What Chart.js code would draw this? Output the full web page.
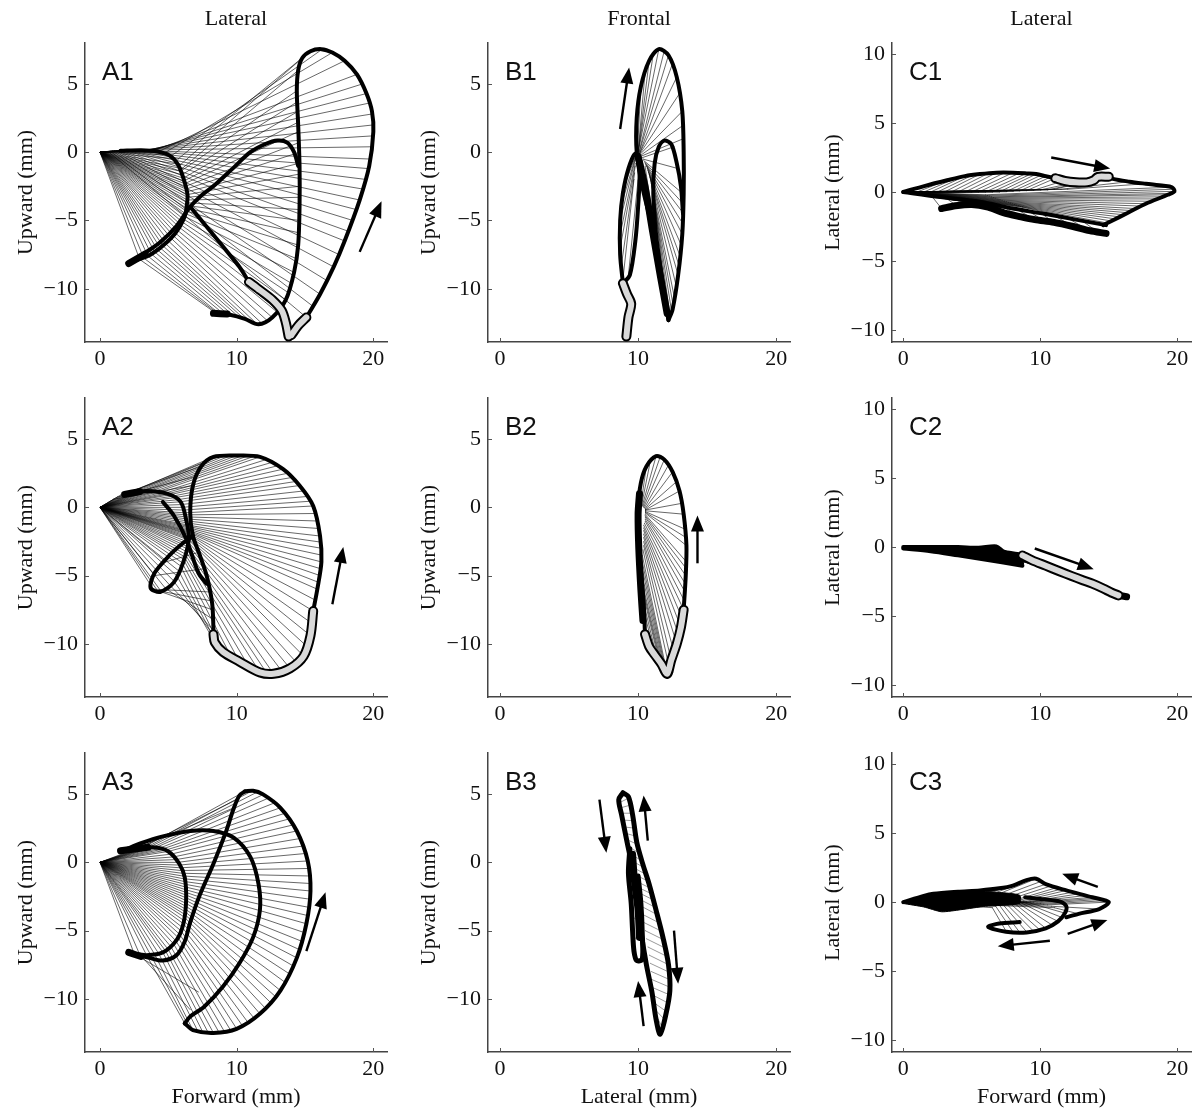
<!DOCTYPE html>
<html>
<head>
<meta charset="utf-8">
<script src="https://cdn.jsdelivr.net/npm/chart.js@4.4.0/dist/chart.umd.min.js"></script>
<style>
  body { margin: 0; background: #fff; width: 1196px; height: 1113px; position: relative; overflow: hidden; }
  canvas { position: absolute; }
</style>
</head>
<body>
<script>
// ---- text ----
const colTitles = ['Lateral', 'Frontal', 'Lateral'];
const xTitles = ['Forward (mm)', 'Lateral (mm)', 'Forward (mm)'];
const yTitles = ['Upward (mm)', 'Upward (mm)', 'Lateral (mm)'];
const xTicks = [0, 10, 20];
const yTicksAB = [-10, -5, 0, 5];
const yTicksC = [-10, -5, 0, 5, 10];

// ---- A1 ----  (thin lines: base[i] -> tip[i], plus hip -> base[i])
const a1Base = [[0.6,0.05],[0.9,0.1],[1.2,0.1],[1.5,0.1],[1.8,0.15],[2.1,0.15],[2.4,0.15],[2.7,0.15],[3.0,0.15],[3.3,0.15],[3.6,0.15],[3.9,0.1],[4.3,0.05],[4.8,0],[5.3,-0.2],[5.7,-0.5],[5.9,-0.9],[6.0,-1.2],[5.9,-1.4],[6.1,-1.9],[6.2,-2.3],[6.3,-2.7],[6.4,-3.1],[6.4,-3.5],[6.35,-3.9],[6.3,-4.3],[6.2,-4.7],[6.0,-5.1],[5.8,-5.5],[5.5,-5.9],[5.2,-6.3],[4.8,-6.7],[4.4,-7.0],[4.0,-7.3],[3.5,-7.6],
  [0.75,0.07],[1.05,0.1],[1.35,0.1],[1.65,0.12],[1.95,0.15],[2.25,0.15],[2.55,0.15],[2.85,0.15],[3.15,0.15],[3.45,0.15],[3.75,0.12],[6.0,-1.65],[6.15,-2.1],[6.25,-2.5],[6.35,-2.9],[6.4,-3.3],[6.38,-3.7],[6.33,-4.1],[6.25,-4.5],[6.1,-4.9],[5.9,-5.3],[5.65,-5.7],[5.35,-6.1],[5.0,-6.5],[4.6,-6.85],[4.2,-7.15],[3.75,-7.45],[3.2,-7.75],[2.9,-7.85]];
const a1Tip = [[15.1,-12.1],[16.1,-10.4],[17.1,-8.4],[17.9,-6.5],[18.5,-5],[19,-3.5],[19.5,-2],[19.8,-0.5],[20,1.2],[19.9,2.8],[19.5,4.3],[18.8,5.7],[17.9,6.7],[17,7.3],[16.2,7.5],[15.4,7.4],[14.8,6.9],[14.5,6],[14.4,4.5],[14.5,3],[14.5,1.5],[14.6,0],[14.6,-1.6],[14.6,-3.3],[14.6,-5],[14.5,-6.8],[14.2,-8.8],[13.8,-10.3],[13.3,-11.3],[12.6,-12.1],[11.8,-12.5],[11,-12.4],[10.2,-12.1],[9.4,-11.9],[8.7,-11.8],
  [15.6,-11.3],[16.6,-9.4],[17.5,-7.5],[18.2,-5.8],[18.75,-4.2],[19.25,-2.7],[19.65,-1.2],[19.9,0.4],[20,2.0],[19.7,3.6],[19.2,5.0],[14.45,3.7],[14.5,2.2],[14.55,0.7],[14.6,-0.8],[14.6,-2.5],[14.6,-4.2],[14.55,-5.9],[14.4,-7.8],[14.0,-9.6],[13.55,-10.8],[12.95,-11.7],[12.2,-12.3],[11.4,-12.5],[10.6,-12.25],[9.8,-12.0],[9.05,-11.85],[8.6,-11.8],[8.5,-11.8]];
const a1Paths = [
  [[1.5,0.1],[3,0.15],[4.2,0.05],[5.1,-0.25],[5.7,-0.9],[6.1,-1.9],[6.4,-3.1],[6.35,-3.9],[6.2,-4.7],[5.8,-5.5],[5.2,-6.3],[4.4,-7.0],[3.5,-7.6],[2.5,-7.95]],
  [[2.4,-8.0],[3.4,-7.3],[4.4,-6.6],[5.6,-5.4],[6.6,-4.0],[7.5,-3.1],[8.4,-2.4],[9.7,-1.2],[11,0],[12.1,0.6],[13,0.85],[13.7,0.7],[14.2,0],[14.5,-1]],
  [[15.1,-12.1],[16.1,-10.4],[17.1,-8.4],[17.9,-6.5],[19,-3.5],[19.7,-1],[20,1.5],[19.9,3],[19.5,4.3],[18.8,5.7],[17.9,6.7],[17,7.3],[16.2,7.55],[15.4,7.4],[14.8,6.9],[14.5,6],[14.4,4.5],[14.5,2],[14.6,-1],[14.6,-4],[14.5,-6.8],[14.2,-8.8],[13.6,-10.8],[12.6,-12.1],[11.6,-12.6],[10.6,-12.2],[9.5,-11.9],[8.5,-11.8]],
  [[6.6,-4],[7.5,-5.1],[8.5,-6.3],[9.4,-7.4],[10.2,-8.4],[10.9,-9.5]]
];
const a1Heavy = [[[2.1,-8.15],[3.3,-7.45]], [[8.3,-11.8],[9.3,-11.85]]];
const a1Stance = [
  [[10.9,-9.5],[11.7,-10.1],[12.6,-10.8],[13.3,-11.6],[13.6,-12.5],[13.8,-13.5]],
  [[15.1,-12.1],[14.5,-12.7],[14.0,-13.4]]
];
const a1Arrows = [[19,-7.3,20.6,-3.6]];

// ---- A2 ----
const a2Base = [[1.0,0.6],[1.5,0.9],[2.0,1.0],[2.6,1.1],[3.1,1.15],[3.6,1.15],[4.1,1.1],[4.6,1.0],[5.0,0.9],[5.4,0.7],[5.8,0.4],[6.0,0.0],[6.2,-0.4],[6.3,-0.7],[6.4,-1.0],[6.45,-1.3],[6.5,-1.5],[6.5,-1.7],[6.5,-1.85],[6.5,-2.0],[6.5,-2.2],[6.5,-2.4],[6.4,-2.7],[6.3,-3.0],[6.2,-3.4],[6.1,-3.8],[5.9,-4.3],[5.6,-5.0],[5.1,-5.7],[4.5,-6.2],[3.9,-6.0],[4.0,-5.0],[4.8,-4.0],
  [1.25,0.75],[1.75,0.95],[2.3,1.05],[2.85,1.12],[3.35,1.15],[3.85,1.12],[4.35,1.05],[4.8,0.95],[5.2,0.8],[5.6,0.55],[5.9,0.2],[6.1,-0.2],[6.25,-0.55],[6.35,-0.85],[6.42,-1.15],[6.48,-1.4],[6.5,-1.6],[6.5,-1.78],[6.5,-1.93],[6.5,-2.1],[6.5,-2.3],[6.45,-2.55],[6.35,-2.85],[6.25,-3.2],[6.15,-3.6],[6.0,-4.05],[5.75,-4.65],[5.35,-5.35],[4.8,-5.95],[4.2,-6.1]];
const a2Tip = [[6.8,1.6],[7.4,3.0],[8.3,3.7],[9.2,3.8],[10,3.8],[10.9,3.8],[11.7,3.7],[12.6,3.3],[13.4,2.8],[14.1,2.2],[14.6,1.6],[15.2,0.8],[15.6,0.1],[15.9,-1],[16.1,-2.1],[16.2,-3],[16.2,-4],[16.1,-5],[15.9,-6],[15.6,-7.6],[15.4,-9.4],[14.9,-10.9],[13.9,-11.8],[12.7,-12.2],[11.7,-12.1],[10.2,-11.3],[9.0,-10.6],[8.4,-9.9],[8.3,-9.0],[8.2,-7.5],[8.0,-6.2],[7.6,-4.5],[7.2,-3.3],
  [7.1,2.3],[7.85,3.4],[8.75,3.75],[9.6,3.8],[10.45,3.8],[11.3,3.75],[12.15,3.5],[13.0,3.05],[13.75,2.5],[14.35,1.9],[14.9,1.2],[15.4,0.45],[15.75,-0.45],[16.0,-1.55],[16.15,-2.55],[16.2,-3.5],[16.15,-4.5],[16.0,-5.5],[15.75,-6.8],[15.5,-8.5],[15.15,-10.2],[14.4,-11.4],[13.3,-12.0],[12.2,-12.15],[10.9,-11.7],[9.6,-10.95],[8.7,-10.25],[8.35,-9.45],[8.25,-8.2],[8.1,-6.85]];
const a2Paths = [
  [[1.9,1.0],[3.4,1.2],[4.9,1.0],[5.9,0.4],[6.3,-0.9],[6.5,-2.3],[6.1,-4],[5.4,-5.5],[4.4,-6.2],[3.7,-5.9],[4.0,-4.8],[5.1,-3.5],[6.1,-2.6],[6.8,-2.1]],
  [[4.6,0.4],[5.4,-0.6],[6.3,-2.3],[7.2,-4.8],[7.8,-5.6]],
  [[8.3,-9.3],[8.3,-8.9],[8.2,-7],[7.8,-5],[7.3,-3.5],[6.8,-2.1],[6.6,-0.4],[6.8,1.6],[7.4,3.0],[8.3,3.7],[10,3.8],[11.7,3.7],[13.4,2.8],[14.6,1.6],[15.6,0.1],[16.1,-2.1],[16.2,-4],[15.9,-6],[15.6,-7.6]]
];
const a2Heavy = [[[1.8,0.95],[2.9,1.15]]];
const a2Stance = [[[15.6,-7.6],[15.4,-9.4],[14.9,-10.9],[13.9,-11.8],[12.7,-12.2],[11.7,-12.1],[10.2,-11.3],[9.0,-10.6],[8.4,-9.9],[8.3,-9.3]]];
const a2Arrows = [[17,-7.1,17.8,-2.9]];

// ---- A3 ----
const a3Base = [[2.5,0.95],[3.0,1.0],[3.5,1.05],[4.0,1.05],[4.5,0.95],[5.0,0.8],[5.4,0.4],[5.7,0.0],[5.9,-0.4],[6.0,-0.8],[6.1,-1.2],[6.2,-1.6],[6.25,-2.0],[6.3,-2.4],[6.3,-2.8],[6.25,-3.2],[6.2,-3.6],[6.15,-4.0],[6.1,-4.5],[5.9,-5.0],[5.7,-5.5],[5.4,-6.0],[5.0,-6.4],[4.6,-6.6],[4.0,-6.75],[3.4,-6.8],[2.9,-6.75],[2.5,-6.7],
  [2.75,0.98],[3.25,1.02],[3.75,1.05],[4.25,1.0],[4.75,0.88],[5.2,0.6],[5.55,0.2],[5.8,-0.2],[5.95,-0.6],[6.05,-1.0],[6.15,-1.4],[6.22,-1.8],[6.28,-2.2],[6.3,-2.6],[6.28,-3.0],[6.22,-3.4],[6.18,-3.8],[6.12,-4.25],[6.0,-4.75],[5.8,-5.25],[5.55,-5.75],[5.2,-6.2],[4.8,-6.5],[4.3,-6.7],[3.7,-6.78]];
const a3Tip = [[9.8,4.0],[10.6,5.2],[11.5,5.15],[12.3,4.7],[13.2,4.0],[13.9,3.2],[14.4,2.3],[14.9,1.2],[15.2,0.1],[15.4,-1.0],[15.4,-2.1],[15.3,-3.3],[15.1,-4.5],[14.8,-5.8],[14.4,-7.0],[13.9,-8.2],[13.2,-9.4],[12.5,-10.3],[11.7,-11.1],[10.8,-11.7],[10.0,-12.2],[9.1,-12.4],[8.3,-12.5],[7.5,-12.4],[6.8,-12.3],[6.2,-11.8],[6.6,-10.8],[7.2,-9.5],
  [10.2,4.7],[11.05,5.2],[11.9,4.95],[12.75,4.35],[13.55,3.6],[14.15,2.75],[14.65,1.75],[15.05,0.65],[15.3,-0.45],[15.4,-1.55],[15.35,-2.7],[15.2,-3.9],[14.95,-5.15],[14.6,-6.4],[14.15,-7.6],[13.55,-8.8],[12.85,-9.85],[12.1,-10.7],[11.25,-11.4],[10.4,-11.95],[9.55,-12.3],[8.7,-12.45],[7.9,-12.45],[7.15,-12.35],[6.5,-12.05]];
const a3Paths = [
  [[1.6,0.8],[2.5,0.95],[3.9,1.1],[5.0,0.8],[5.8,-0.1],[6.2,-1.1],[6.3,-2.8],[6.1,-4.5],[5.6,-5.7],[4.6,-6.6],[3.4,-6.8],[2.4,-6.7]],
  [[2.4,-6.7],[3.6,-7.0],[4.6,-7.2],[5.6,-6.8],[6.2,-5.8],[6.6,-4.4],[7.3,-2.4],[8.3,-0.1],[9.2,2.2],[9.8,4.0],[10.2,4.9],[10.6,5.2]],
  [[10.6,5.2],[11.2,5.25],[11.9,5.0],[13.2,4.0],[14.4,2.3],[15.2,0.1],[15.4,-2.1],[15.1,-4.5],[14.4,-7],[13.2,-9.4],[11.7,-11.1],[10.0,-12.2],[8.3,-12.5],[6.8,-12.3],[6.2,-11.8]],
  [[1.8,0.9],[3.0,1.4],[4.6,1.9],[6.6,2.3],[8.3,2.3],[9.8,1.8],[11,0.4],[11.6,-1.6],[11.7,-3.5],[11.2,-5.5],[10.2,-7.4],[9.0,-9.1],[7.6,-10.6],[6.6,-11.3],[6.2,-11.8]]
];
const a3Heavy = [[[1.5,0.85],[3.5,1.1]], [[2.1,-6.6],[3.0,-6.9]]];
const a3Stance = [];
const a3Arrows = [[15.1,-6.5,16.5,-2.2]];

// ---- B1 ----
const b1Base = [[9.9,0],[9.95,0],[10.0,0],[10.0,0],[10.05,-0.1],[10.1,-0.1],[10.1,-0.2],[10.2,-0.3],[10.3,-0.4],[10.35,-0.5],[10.4,-0.6],[10.5,-0.8],[10.6,-1.0],[10.7,-1.3],[10.8,-1.6],[10.9,-2.0],[11.0,-2.5],[11.1,-3.0],[10.2,-0.5],[10.0,-0.3],[9.8,-0.3],[9.8,-0.5],[9.8,-1.0],[9.7,-2.0],[10.0,-2.0],[9.95,0],[10.0,0],[10.0,0],[10.05,-0.05],[10.1,-0.1],[10.1,-0.15],[10.15,-0.25],
  [10.45,-0.7],[10.55,-0.9],[10.65,-1.15],[10.75,-1.45],[10.85,-1.8],[10.95,-2.25],[11.05,-2.75],[10.1,-0.4],[10.3,-0.6],[10.5,-1.0],[9.8,-0.4],[9.8,-0.8],[9.75,-1.5]];
const b1Tip = [[9.9,2.5],[10.2,4.8],[10.8,6.7],[11.5,7.55],[12.2,7.1],[12.8,5.5],[13.2,3.0],[13.3,1.0],[12.6,0.4],[12.9,-1.2],[13.2,-3.0],[13.3,-4.5],[13.2,-6.0],[13.0,-7.5],[12.9,-9.0],[12.6,-10.5],[12.4,-11.5],[12.2,-12.3],[12.0,-12.0],[11.8,-11.0],[8.8,-3.0],[8.7,-5.0],[8.7,-7.0],[8.9,-9.3],[9.3,-9.0],[10.0,3.7],[10.5,5.8],[11.1,7.2],[11.9,7.45],[12.5,6.5],[13.0,4.3],[13.3,2.0],
  [13.25,-3.75],[13.25,-5.25],[13.1,-6.75],[12.95,-8.25],[12.75,-9.75],[12.5,-11],[12.3,-11.9],[12.1,-12.2],[11.9,-11.5],[12.0,-11.0],[8.75,-4],[8.7,-6],[8.8,-8.2]];
const b1Paths = [
  [[12.2,-12.3],[11.6,-9],[11.0,-5.5],[10.3,-2.5],[9.9,0],[9.9,2.5],[10.2,4.8],[10.8,6.7],[11.5,7.55],[12.2,7.1],[12.8,5.5],[13.2,3],[13.3,0],[13.3,-3],[13.2,-6],[12.9,-9],[12.5,-11.5],[12.2,-12.3]],
  [[12.2,-12.3],[11.7,-9],[11.3,-6],[11.1,-3],[11.2,-0.8],[11.5,0.4],[11.9,0.85],[12.4,0.6],[12.8,-0.8],[13.1,-2.5],[13.25,-4.5]],
  [[8.9,-9.6],[8.7,-7.5],[8.7,-5],[8.9,-3],[9.3,-1.2],[9.8,-0.1],[10.1,-1.5],[10.0,-4],[9.8,-6.5],[9.4,-9.0],[8.9,-9.6]]
];
const b1Heavy = [[[10.0,-0.3],[10.5,-2.5],[11.0,-5.5],[11.6,-9],[12.1,-11.8]]];
const b1Stance = [[[8.9,-9.6],[9.2,-10.4],[9.5,-11.1],[9.3,-12.1],[9.15,-13.5]]];
const b1Arrows = [[8.7,1.7,9.35,6.2]];

// ---- B2 ----
const b2Base = [[10.2,0.2],[10.3,0.1],[10.4,0],[10.5,-0.1],[10.5,-0.15],[10.5,-0.2],[10.5,-0.2],[10.5,-0.25],[10.5,-0.3],[10.5,-0.4],[10.5,-0.5],[10.5,-0.7],[10.5,-1.0],[10.4,-1.3],[10.4,-1.7],[10.4,-2.2],[10.4,-2.8],[10.3,-3.5],[10.3,-4.5],[10.3,-5.5],[10.4,-6.5],[10.4,-7.5],
  [10.25,0.15],[10.35,0.05],[10.45,-0.05],[10.5,-0.35],[10.5,-0.6],[10.5,-0.85],[10.45,-1.15],[10.4,-1.5],[10.4,-1.95],[10.4,-2.5],[10.35,-3.1],[10.3,-4],[10.3,-5],[10.35,-6],[10.4,-7]];
const b2Tip = [[10.6,3.0],[11.3,3.75],[11.9,3.5],[12.5,2.6],[12.8,1.9],[13.0,1.2],[13.2,0.3],[13.3,-0.5],[13.4,-1.6],[13.5,-2.8],[13.5,-4.0],[13.45,-5.0],[13.4,-6.2],[13.3,-7.5],[13.1,-8.8],[12.8,-10.0],[12.4,-11.2],[12.1,-12.2],[11.9,-11.8],[11.7,-11.5],[11.5,-11.2],[11.2,-10.8],
  [10.9,3.45],[11.6,3.7],[12.2,3.1],[13.45,-2.2],[13.5,-4.5],[13.42,-5.6],[13.35,-6.85],[13.2,-8.15],[12.95,-9.4],[12.6,-10.6],[12.25,-11.7],[12.0,-12.0],[11.8,-11.65],[11.6,-11.35],[11.35,-11.0]];
const b2Paths = [[[10.5,-9.3],[10.4,-7],[10.2,-4.5],[10.0,-2],[10.0,0],[10.2,1.8],[10.6,3.0],[11.3,3.75],[11.9,3.5],[12.5,2.6],[13.0,1.2],[13.3,-0.5],[13.5,-2.8],[13.45,-5],[13.3,-7.5]]];
const b2Heavy = [[[10.35,-8.3],[10.2,-6],[10.05,-3],[10.0,-0.5],[10.1,1.0]]];
const b2Stance = [[[13.3,-7.5],[13.1,-8.8],[12.8,-10],[12.4,-11.2],[12.1,-12.2],[11.7,-11.5],[11.2,-10.8],[10.8,-10.2],[10.5,-9.3]]];
const b2Arrows = [[14.3,-4.1,14.3,-0.6]];

// ---- B3 ----
const b3Base = [[8.7,4.4],[8.8,3.6],[8.95,2.6],[9.1,1.7],[9.3,0.7],[9.5,-0.3],[9.7,-1.3],[10.0,-2.2],[10.2,-3.2],[10.4,-4.4],[10.6,-5.6],[10.8,-6.8],[10.95,-8.0],[11.1,-9.2],[11.3,-10.4],[11.45,-11.5],[9.5,-2.5],[9.6,-4.0],[9.7,-5.5],
  [8.75,4.0],[8.88,3.1],[9.02,2.15],[9.2,1.2],[9.4,0.2],[9.6,-0.8],[9.85,-1.75],[10.1,-2.7],[10.3,-3.8],[10.5,-5.0],[10.7,-6.2],[10.88,-7.4],[11.02,-8.6],[11.2,-9.8],[11.38,-10.95]];
const b3Tip = [[9.3,4.7],[9.6,3.6],[9.8,2.5],[10.0,1.3],[10.3,0.1],[10.6,-0.9],[10.9,-1.9],[11.2,-2.8],[11.5,-3.9],[11.8,-5.1],[12.0,-6.3],[12.2,-7.5],[12.3,-8.6],[12.25,-9.7],[12.0,-10.9],[11.7,-12.0],[10.1,-3.0],[10.2,-4.4],[10.3,-5.8],
  [9.45,4.2],[9.7,3.05],[9.9,1.9],[10.15,0.65],[10.45,-0.4],[10.75,-1.4],[11.05,-2.35],[11.35,-3.35],[11.65,-4.5],[11.9,-5.7],[12.1,-6.9],[12.25,-8.05],[12.3,-9.15],[12.15,-10.3],[11.85,-11.45]];
const b3Paths = [
  [[8.9,5.1],[9.3,4.8],[9.6,3.5],[9.9,1.5],[10.3,0],[10.8,-1.6],[11.3,-3.5],[11.8,-5.5],[12.2,-7.5],[12.3,-9.4],[12.0,-11.2],[11.6,-12.6],[11.3,-11.5],[11.0,-9.5],[10.6,-7.5],[10.2,-5],[9.9,-2.5],[9.6,-0.5],[9.2,1.5],[8.8,3.5],[8.6,4.6],[8.9,5.1]],
  [[9.4,1.0],[9.3,-0.8],[9.5,-3],[9.6,-5],[9.7,-6.5],[9.9,-7.2],[10.3,-7.1],[10.3,-5.2],[10.2,-3],[10.0,-1]]
];
const b3Heavy = [[[9.6,0.6],[9.75,-1.5],[10.0,-3.5],[10.1,-5.5]]];
const b3Stance = [];
const b3Arrows = [[7.2,4.6,7.7,0.7],[10.7,1.6,10.4,4.9],[12.6,-5,12.9,-8.9],[10.4,-12,10.0,-8.7]];

// ---- C1 ----
const c1Base = [[1,0],[2,0],[3,0],[4,0],[5,0],[6,0],[7,0],[8,0.05],[9,0.1],[10,0.15],[10.5,0.15],[11,0.2],[11.5,0.2],[12,0.2],[6,-0.2],[6.3,-0.3],[6.6,-0.4],[6.9,-0.5],[7.2,-0.6],[7.5,-0.7],[7.8,-0.8],[8.1,-0.9],[8.4,-1.0],[8.7,-1.1],[2,-0.2],[4,-0.5],[6,-0.8],[8,-1.1],[10,-1.5],[12,-1.9],
  [1.5,0],[2.5,0],[3.5,0],[4.5,0],[5.5,0],[6.5,0],[7.5,0.02],[8.5,0.08],[9.5,0.12],[6.15,-0.25],[6.45,-0.35],[6.75,-0.45],[7.05,-0.55],[7.35,-0.65],[7.65,-0.75],[7.95,-0.85],[8.25,-0.95],[8.55,-1.05],[3,-0.35],[5,-0.65],[7,-0.95],[9,-1.3],[11,-1.7],[13,-2.05]];
const c1Tip = [[3.2,0.85],[4.5,1.15],[5.6,1.3],[6.8,1.4],[8,1.4],[9,1.35],[9.7,1.3],[10.4,1.15],[11.1,1.0],[12.6,0.7],[13.9,0.85],[15,1.1],[16.5,0.75],[17.7,0.6],[19.6,0.35],[19.8,0.05],[19.3,-0.2],[18.5,-0.5],[17.7,-0.85],[17.0,-1.2],[16.4,-1.5],[15.8,-1.8],[15.2,-2.1],[14.6,-2.4],[2.8,-1.2],[5,-0.9],[7.3,-1.5],[9.6,-2.0],[11,-2.2],[13.6,-2.8],
  [3.85,1.0],[5.05,1.22],[6.2,1.35],[7.4,1.4],[8.5,1.38],[9.35,1.32],[10.05,1.22],[10.75,1.08],[11.8,0.85],[19.7,0.2],[19.55,-0.1],[18.9,-0.35],[18.1,-0.67],[17.35,-1.02],[16.7,-1.35],[16.1,-1.65],[15.5,-1.95],[14.9,-2.25],[3.9,-1.0],[6.2,-1.1],[8.6,-1.8],[10.3,-2.1],[12.4,-2.5],[14.2,-2.9]];
const c1Paths = [
  [[0,0],[1.6,0.45],[3.2,0.85],[4.5,1.15],[5.6,1.3],[6.8,1.4],[8.0,1.4],[9.0,1.35],[9.7,1.3],[10.4,1.15],[11.1,1.0]],
  [[15.0,1.1],[15.3,0.95],[16.5,0.75],[17.7,0.6],[19.0,0.45],[19.6,0.35],[19.8,0.05],[19.3,-0.2],[17.7,-0.85],[16.4,-1.5],[15.2,-2.1],[14.6,-2.4]],
  [[0,0],[2.5,-0.35],[5.6,-0.7],[8.0,-1.2],[10.4,-1.6],[12.6,-2.0],[14.8,-2.4]]
];
const c1Heavy = [[[2.8,-1.2],[3.8,-1.0],[5.0,-0.9],[6.2,-1.1],[7.3,-1.5],[8.6,-1.8],[9.6,-2.0],[11.0,-2.2],[12.4,-2.5],[13.6,-2.8],[14.8,-3.0]]];
const c1Stance = [[[11.1,1.0],[11.8,0.8],[12.6,0.7],[13.4,0.7],[13.9,0.85],[14.2,1.1],[15.0,1.1]]];
const c1Arrows = [[10.8,2.5,15.1,1.7]];

// ---- C2 ----
const c2Base = [[0.5,0],[1,0],[1.5,0],[2,0],[2.5,0],[3,0],[3.5,0],[4,0],[4.5,-0.1],[5,-0.2],[5.5,-0.3],[6,-0.35],[6.5,-0.4],[7,-0.5],[7.5,-0.55],[8,-0.6]];
const c2Tip = [[2,-0.3],[3,-0.45],[4,-0.6],[5,-0.75],[5.6,-0.85],[6.4,-1.0],[7.2,-1.1],[8,-1.2],[8.7,-1.35],[9.4,-0.95],[10.4,-1.35],[11.4,-1.75],[12.3,-2.1],[13.1,-2.4],[13.8,-2.65],[14.6,-3.0]];
const c2Paths = [
  [[0,0],[2,0],[4,0],[5.5,-0.05],[6.8,0.05],[7.3,-0.3],[8.3,-0.5],[8.7,-0.6]],
  [[0,-0.1],[2,-0.3],[4,-0.6],[5.6,-0.85],[7.2,-1.1],[8.7,-1.35]]
];
const c2Fill = [[[0,0.05],[2,0.05],[4,0.05],[5.5,0],[6.8,0.1],[7.3,-0.25],[8.3,-0.45],[8.8,-0.6],[8.7,-1.35],[7.2,-1.1],[5.6,-0.85],[4,-0.6],[2,-0.3],[0,-0.1]]];
const c2Heavy = [[[15.5,-3.45],[16.3,-3.6]]];
const c2Stance = [[[8.7,-0.6],[9.4,-0.95],[10.4,-1.35],[11.4,-1.75],[12.3,-2.1],[13.1,-2.4],[13.8,-2.65],[14.6,-3.0],[15.2,-3.3],[15.7,-3.5]]];
const c2Arrows = [[9.6,-0.1,13.9,-1.6]];

// ---- C3 ----
const c3Base = [[4,0.2],[5,0.2],[6,0.2],[7,0.15],[8,0.1],[8.5,0.05],[9,0],[9.5,0],[10,-0.1],[10.5,-0.2],[10.8,-0.3],[11,-0.4],[6.5,-0.4],[7,-0.2],[7.5,-0.1],[8,0],[8.5,0],[9,0],[1.5,0],[2.5,0],[3.5,0],
  [4.5,0.2],[5.5,0.2],[6.5,0.18],[7.5,0.12],[8.25,0.08],[8.75,0.02],[9.25,0],[9.75,-0.05],[10.25,-0.15],[6.75,-0.3],[7.25,-0.15],[7.75,-0.05],[8.25,0],[8.75,0]];
const c3Tip = [[8,1.2],[9,1.6],[9.7,1.7],[10.4,1.3],[11.2,1.05],[11.9,0.85],[12.8,0.6],[13.8,0.35],[14.4,0.2],[15,0],[14.3,-0.5],[12.8,-0.85],[7.5,-2.1],[8.5,-2.2],[9.5,-2.1],[10.4,-1.9],[11.3,-1.4],[11.8,-0.8],[3,0.7],[4.5,0.8],[6,0.7],
  [8.5,1.4],[9.35,1.68],[10.05,1.5],[10.8,1.18],[11.55,0.95],[12.35,0.72],[13.3,0.48],[14.1,0.28],[14.7,0.1],[8.0,-2.15],[9.0,-2.15],[9.95,-2.0],[10.85,-1.65],[11.55,-1.1]];
const c3Paths = [
  [[0,0],[1.5,0.45],[2.2,0.6],[4,0.75],[5.6,0.85],[7,1.0],[8,1.2],[9,1.6],[9.7,1.7],[10.4,1.3],[11.9,0.85],[13.8,0.35],[15,0],[14.3,-0.5],[12.8,-0.85],[11.9,-1.1]],
  [[8.9,0.35],[10.3,0.2],[11.4,0.05],[11.9,-0.3],[11.8,-0.8],[11.3,-1.4],[10.4,-1.9],[9,-2.2],[7.5,-2.15],[6.2,-1.8],[7.0,-1.55],[8.5,-1.45]]
];
const c3Fill = [[[0,0.05],[1.5,0.45],[3,0.7],[5,0.8],[7,0.7],[8.5,0.5],[8.5,-0.1],[6,-0.3],[4.2,-0.55],[2.8,-0.7],[1.5,-0.35],[0,-0.1]]];
const c3Heavy = [];
const c3Stance = [];
const c3Arrows = [[14.2,1.1,11.6,2.05],[12,-2.3,14.9,-1.3],[10.7,-2.8,6.9,-3.2]];

// ---- layout (pixels) ----
const colLeft = [85, 488, 892];
const colRight = [387, 790, 1191];
const colXMin = [-1.1, -0.87, -0.82];
const rowTop = [43, 398, 753];
const plotH = 299;

const panels = [
  {label: 'A1', col: 0, row: 0, base: a1Base, tip: a1Tip, hip: [0, 0], paths: a1Paths, heavy: a1Heavy, stance: a1Stance, fills: [], arrows: a1Arrows},
  {label: 'A2', col: 0, row: 1, base: a2Base, tip: a2Tip, hip: [0, 0], paths: a2Paths, heavy: a2Heavy, stance: a2Stance, fills: [], arrows: a2Arrows},
  {label: 'A3', col: 0, row: 2, base: a3Base, tip: a3Tip, hip: [0, 0], paths: a3Paths, heavy: a3Heavy, stance: a3Stance, fills: [], arrows: a3Arrows},
  {label: 'B1', col: 1, row: 0, base: b1Base, tip: b1Tip, hip: null, paths: b1Paths, heavy: b1Heavy, stance: b1Stance, fills: [], arrows: b1Arrows},
  {label: 'B2', col: 1, row: 1, base: b2Base, tip: b2Tip, hip: null, paths: b2Paths, heavy: b2Heavy, stance: b2Stance, fills: [], arrows: b2Arrows},
  {label: 'B3', col: 1, row: 2, base: b3Base, tip: b3Tip, hip: null, paths: b3Paths, heavy: b3Heavy, stance: b3Stance, fills: [], arrows: b3Arrows},
  {label: 'C1', col: 2, row: 0, base: c1Base, tip: c1Tip, hip: [0, 0], paths: c1Paths, heavy: c1Heavy, stance: c1Stance, fills: [], arrows: c1Arrows},
  {label: 'C2', col: 2, row: 1, base: c2Base, tip: c2Tip, hip: [0, 0], paths: c2Paths, heavy: c2Heavy, stance: c2Stance, fills: c2Fill, arrows: c2Arrows},
  {label: 'C3', col: 2, row: 2, base: c3Base, tip: c3Tip, hip: [0, 0], paths: c3Paths, heavy: c3Heavy, stance: c3Stance, fills: c3Fill, arrows: c3Arrows}
];

const serif = '"Liberation Serif", "Times New Roman", serif';
Chart.defaults.font.family = serif;
Chart.defaults.color = '#111';
const fontSize = 22;

function fmt(v) {
  return v < 0 ? '\u2212' + Math.abs(v) : String(v);
}

function line(pts, color, width, order, tension) {
  return {
    data: pts.map(q => ({x: q[0], y: q[1]})),
    showLine: true,
    borderColor: color,
    borderWidth: width,
    pointRadius: 0,
    pointHoverRadius: 0,
    tension: tension || 0,
    order: order,
    fill: false,
    borderCapStyle: 'round',
    borderJoinStyle: 'round'
  };
}

const decor = {
  id: 'decor',
  afterDatasetsDraw(chart, args, opts) {
    const {ctx, scales: {x, y}} = chart;
    ctx.save();
    ctx.strokeStyle = '#000';
    ctx.fillStyle = '#000';
    ctx.lineWidth = 2.4;
    (opts.arrows || []).forEach(a => {
      const x0 = x.getPixelForValue(a[0]), y0 = y.getPixelForValue(a[1]);
      const x1 = x.getPixelForValue(a[2]), y1 = y.getPixelForValue(a[3]);
      const ang = Math.atan2(y1 - y0, x1 - x0);
      const c = Math.cos(ang), s = Math.sin(ang);
      const hl = 16, hw = 6.5;
      ctx.beginPath();
      ctx.moveTo(x0, y0);
      ctx.lineTo(x1 - hl * 0.8 * c, y1 - hl * 0.8 * s);
      ctx.stroke();
      ctx.beginPath();
      ctx.moveTo(x1, y1);
      ctx.lineTo(x1 - hl * c + hw * s, y1 - hl * s - hw * c);
      ctx.lineTo(x1 - hl * c - hw * s, y1 - hl * s + hw * c);
      ctx.closePath();
      ctx.fill();
    });
    ctx.restore();
  },
  afterDraw(chart, args, opts) {
    const {ctx, chartArea: ca, scales: {x, y}} = chart;
    ctx.save();
    ctx.strokeStyle = '#555';
    ctx.lineWidth = 1;
    x.ticks.forEach(t => {
      const px = Math.round(x.getPixelForValue(t.value)) + 0.5;
      ctx.beginPath(); ctx.moveTo(px, ca.bottom); ctx.lineTo(px, ca.bottom - 4); ctx.stroke();
    });
    y.ticks.forEach(t => {
      const py = Math.round(y.getPixelForValue(t.value)) + 0.5;
      ctx.beginPath(); ctx.moveTo(ca.left, py); ctx.lineTo(ca.left + 4, py); ctx.stroke();
    });
    ctx.font = '26px "Liberation Sans", Arial, sans-serif';
    ctx.fillStyle = '#111';
    ctx.textBaseline = 'alphabetic';
    ctx.fillText(opts.text, ca.left + 17, ca.top + 37);
    ctx.restore();
  }
};

function makePanel(p) {
  const L = colLeft[p.col], R = colRight[p.col];
  const top = rowTop[p.row];
  const first = p.row === 0, last = p.row === 2;
  const topSpace = first ? top : 20;
  const xH = last ? 58 : 30;
  const padRight = p.col === 2 ? 5 : 8;
  const isC = p.col === 2;

  const canvas = document.createElement('canvas');
  canvas.width = 85 + (R - L) + padRight;
  canvas.height = topSpace + plotH + xH;
  canvas.style.left = (L - 85) + 'px';
  canvas.style.top = (top - topSpace) + 'px';
  document.body.appendChild(canvas);

  const thin = p.label === 'B3' ? 'rgba(0,0,0,0.5)' : 'rgba(0,0,0,0.75)';
  const datasets = [];
  p.base.forEach((b, i) => {
    datasets.push(line([b, p.tip[i]], thin, 0.8, 10));
    if (p.hip) datasets.push(line([p.hip, b], thin, 0.8, 10));
  });
  p.fills.forEach(pts => {
    const d = line(pts, '#000', 1, 5, 0.2);
    d.fill = 'shape';
    d.backgroundColor = '#000';
    datasets.push(d);
  });
  p.paths.forEach(pts => datasets.push(line(pts, '#000', p.label === 'B3' ? 5 : 4, 4, 0.3)));
  p.heavy.forEach(pts => datasets.push(line(pts, '#000', 7, 3, 0.3)));
  p.stance.forEach(pts => {
    datasets.push(line(pts, '#000', 10, 2, 0.3));
    datasets.push(line(pts, '#d9d9d9', 6, 1, 0.3));
  });

  const yTicks = isC ? yTicksC : yTicksAB;
  const scales = {
    x: {
      type: 'linear', position: 'bottom',
      min: colXMin[p.col], max: 21,
      grid: {display: false, drawTicks: false},
      border: {display: true, color: '#444', width: 1.5},
      ticks: {font: {size: fontSize}, color: '#111', padding: 4, callback: fmt},
      afterBuildTicks: s => { s.ticks = xTicks.map(v => ({value: v})); },
      title: {display: last, text: xTitles[p.col], font: {size: fontSize}, color: '#111', padding: {top: 0, bottom: 0}},
      afterFit: s => { s.height = xH; }
    },
    y: {
      type: 'linear', position: 'left',
      min: isC ? -10.87 : -13.9, max: isC ? 10.8 : 8,
      grid: {display: false, drawTicks: false},
      border: {display: true, color: '#444', width: 1.5},
      ticks: {font: {size: fontSize}, color: '#111', padding: 7, callback: fmt},
      afterBuildTicks: s => { s.ticks = yTicks.map(v => ({value: v})); },
      title: {display: true, text: yTitles[p.col], font: {size: fontSize}, color: '#111', padding: {top: 13, bottom: 0}},
      afterFit: s => { s.width = 85; }
    }
  };
  if (first) {
    scales.xt = {
      type: 'linear', position: 'top', min: 0, max: 1,
      grid: {display: false, drawTicks: false},
      border: {display: false},
      ticks: {display: false},
      title: {display: true, text: colTitles[p.col], font: {size: fontSize}, color: '#111', padding: {top: 6, bottom: 0}},
      afterFit: s => { s.height = topSpace; }
    };
  }

  new Chart(canvas, {
    type: 'scatter',
    data: {datasets: datasets},
    options: {
      responsive: false,
      animation: false,
      events: [],
      layout: {padding: {top: first ? 0 : topSpace, right: padRight, bottom: 0, left: 0}},
      plugins: {
        legend: {display: false},
        tooltip: {enabled: false},
        decor: {text: p.label, arrows: p.arrows}
      },
      scales: scales
    },
    plugins: [decor]
  });
}

panels.forEach(makePanel);
</script>
</body>
</html>
